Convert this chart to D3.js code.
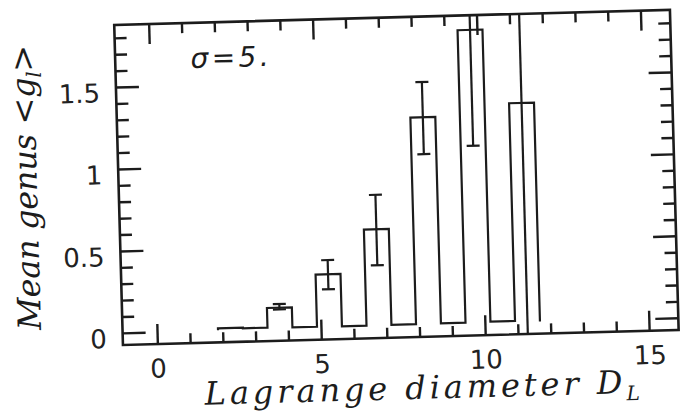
<!DOCTYPE html>
<html>
<head>
<meta charset="UTF-8">
<title>Mean genus - Lagrange diameter</title>
<script src="https://d3js.org/d3.v7.min.js"></script>
<style>
    body { margin: 0; background: #fff; }
    svg { display: block; }
    .frame { fill: none; stroke: #1c1c1c; stroke-width: 2.6px; }
    .axis line { stroke: #1c1c1c; stroke-width: 2.4px; }
    .axis text { font-family: "DejaVu Sans"; font-size: 26px; fill: #222; }
    .hist { fill: none; stroke: #1c1c1c; stroke-width: 2.2px; }
    .err { stroke: #1c1c1c; stroke-width: 2.2px; }
    .title { font-family: "DejaVu Serif"; font-style: italic; font-size: 32px; fill: #1c1c1c; }
    .note { font-family: "DejaVu Sans"; font-style: oblique; font-size: 28px; fill: #1c1c1c; }
</style>
</head>
<body>
<div id="chart"></div>
<script>
    // histogram bins (Lagrange diameter) and mean genus per bin
    var binEdges = [1.86, 2.62, 3.37, 4.13, 4.88, 5.64, 6.39, 7.15, 7.90, 8.66, 9.41, 10.17, 10.92, 11.68];
    var meanGenus = [0.012, 0.008, 0.128, 0.005, 0.323, 0.004, 0.59, 0.005, 1.265, 0.006, 1.79, 0.008, 1.336];
    // error bars (null = none)
    var errLow = [null, null, 0.117, null, 0.232, null, 0.37, null, 1.04, null, 1.083, null, -0.3];
    var errHigh = [null, null, 0.150, null, 0.410, null, 0.80, null, 1.48, null, 2.50, null, 2.97];

    var xMajor = [0, 5, 10, 15];
    var xLabels = ["0", "5", "10", "15"];
    var xMinor = [1, 2, 3, 4, 6, 7, 8, 9, 11, 12, 13, 14];
    var yMajor = [0, 0.5, 1, 1.5];
    var yLabels = ["0", "0.5", "1", "1.5"];
    var yMinor = [0.1, 0.2, 0.3, 0.4, 0.6, 0.7, 0.8, 0.9, 1.1, 1.2, 1.3, 1.4, 1.6, 1.7, 1.8];

    var W = 682, H = 419;
    var pLeft = 122.6, pRight = 678.5, pTop = 23.9, pBottom = 344.1;

    var x = d3.scaleLinear().domain([-1.05, 15.9]).range([pLeft, pRight]);
    var y = d3.scaleLinear().domain([-0.074, 1.879]).range([pBottom, pTop]);

    var svg = d3.select("#chart").append("svg")
        .attr("width", W).attr("height", H);

    // the scanned figure is slightly tilted
    var g = svg.append("g").attr("transform", "rotate(-1.56,157,332)");

    g.append("clipPath").attr("id", "clip")
        .append("rect")
        .attr("x", pLeft).attr("y", pTop)
        .attr("width", pRight - pLeft).attr("height", pBottom - pTop);

    // ticks with d3 axes (inward)
    function addAxis(axis, tx, ty) {
        var a = g.append("g").attr("class", "axis")
            .attr("transform", "translate(" + tx + "," + ty + ")")
            .call(axis);
        a.select(".domain").remove();
        return a;
    }

    addAxis(d3.axisBottom(x).tickValues(xMajor).tickSize(-20).tickPadding(15)
        .tickFormat(function (d, i) { return xLabels[i]; }), 0, pBottom);
    addAxis(d3.axisBottom(x).tickValues(xMinor).tickSize(-10).tickFormat(""), 0, pBottom);
    addAxis(d3.axisTop(x).tickValues(xMajor).tickSize(-20).tickFormat(""), 0, pTop);
    addAxis(d3.axisTop(x).tickValues(xMinor).tickSize(-10).tickFormat(""), 0, pTop);

    addAxis(d3.axisLeft(y).tickValues(yMajor).tickSize(-23).tickPadding(16)
        .tickFormat(function (d, i) { return yLabels[i]; }), pLeft, 0)
        .selectAll("text").attr("dy", "0.55em");
    addAxis(d3.axisLeft(y).tickValues(yMinor).tickSize(-12).tickFormat(""), pLeft, 0);
    addAxis(d3.axisRight(y).tickValues(yMajor).tickSize(-23).tickFormat(""), pRight, 0);
    addAxis(d3.axisRight(y).tickValues(yMinor).tickSize(-12).tickFormat(""), pRight, 0);

    // histogram outline
    var pts = [[binEdges[0], 0]];
    meanGenus.forEach(function (v, i) {
        pts.push([binEdges[i], v]);
        pts.push([binEdges[i + 1], v]);
    });
    pts.push([binEdges[binEdges.length - 1], 0]);

    g.append("path")
        .attr("class", "hist")
        .attr("d", d3.line().x(function (d) { return x(d[0]); }).y(function (d) { return y(d[1]); })(pts));

    // error bars
    var errs = meanGenus.map(function (v, i) {
        return { c: (binEdges[i] + binEdges[i + 1]) / 2, lo: errLow[i], hi: errHigh[i] };
    }).filter(function (d) { return d.lo !== null; });

    var eg = g.append("g").attr("clip-path", "url(#clip)");
    var cap = 6.5;
    eg.selectAll(".err-v").data(errs).enter().append("line")
        .attr("class", "err")
        .attr("x1", function (d) { return x(d.c); }).attr("x2", function (d) { return x(d.c); })
        .attr("y1", function (d) { return y(d.lo); }).attr("y2", function (d) { return y(d.hi); });
    eg.selectAll(".err-hi").data(errs).enter().append("line")
        .attr("class", "err")
        .attr("x1", function (d) { return x(d.c) - cap; }).attr("x2", function (d) { return x(d.c) + cap; })
        .attr("y1", function (d) { return y(d.hi); }).attr("y2", function (d) { return y(d.hi); });
    eg.selectAll(".err-lo").data(errs).enter().append("line")
        .attr("class", "err")
        .attr("x1", function (d) { return x(d.c) - cap; }).attr("x2", function (d) { return x(d.c) + cap; })
        .attr("y1", function (d) { return y(d.lo); }).attr("y2", function (d) { return y(d.lo); });

    // frame
    g.append("rect").attr("class", "frame")
        .attr("x", pLeft).attr("y", pTop)
        .attr("width", pRight - pLeft).attr("height", pBottom - pTop);

    // annotation
    g.append("text").attr("class", "note")
        .attr("x", 198).attr("y", 69)
        .attr("textLength", 78).attr("lengthAdjust", "spacing")
        .text("\u03c3=5.");

    // axis titles
    var xt = g.append("text").attr("class", "title")
        .attr("x", 203).attr("y", 406)
        .attr("textLength", 435).attr("lengthAdjust", "spacing");
    xt.append("tspan").text("Lagrange diameter D");
    xt.append("tspan").attr("dy", 7).style("font-size", "20px").text("L");

    var yt = g.append("text").attr("class", "title")
        .attr("transform", "translate(41,184) rotate(-90)")
        .attr("text-anchor", "middle")
        .attr("textLength", 285).attr("lengthAdjust", "spacing");
    yt.append("tspan").text("Mean genus <g");
    yt.append("tspan").attr("dy", 7).style("font-size", "20px").text("l");
    yt.append("tspan").attr("dy", -7).text(">");
</script>
</body>
</html>
